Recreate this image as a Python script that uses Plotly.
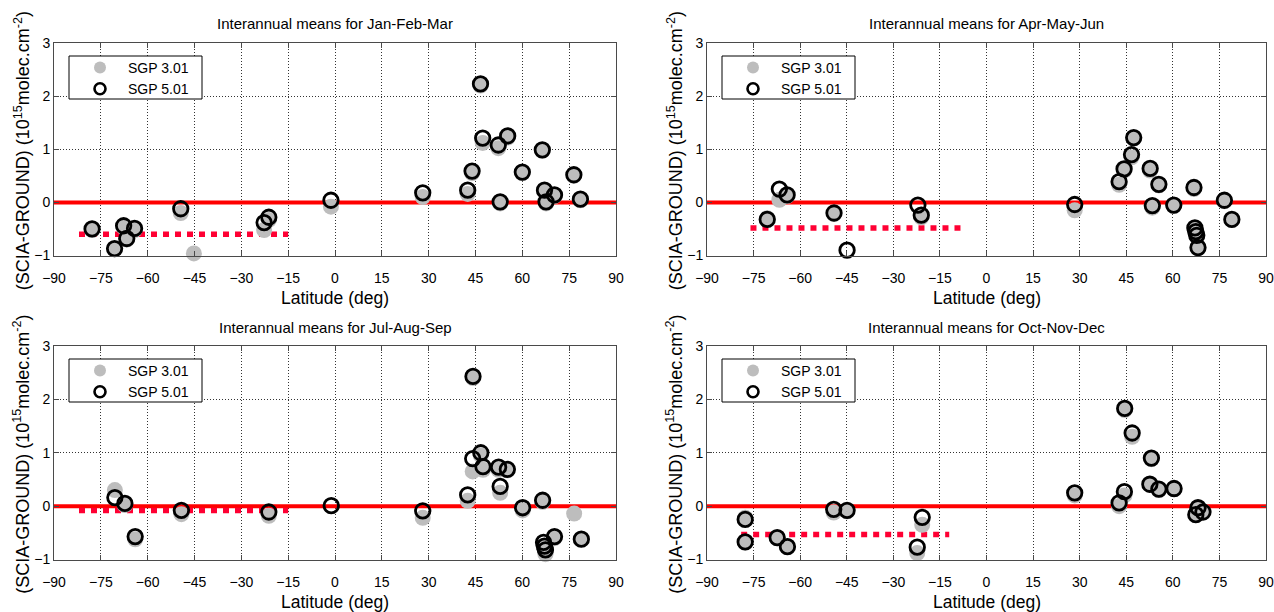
import plotly.graph_objects as go

# Seasonal panels
seasons = ["Jan-Feb-Mar", "Apr-May-Jun", "Jul-Aug-Sep", "Oct-Nov-Dec"]

# Station latitudes (deg) and SCIA-GROUND differences (1e15 molec/cm2)
jfm_lat = [-77.8, -70.6, -67.7, -66.7, -64.2, -49.4, -45.2, -22.7, -21.2, -1.3, 28.1, 42.5, 43.9,
           46.6, 47.3, 52.3, 52.9, 55.3, 60.0, 66.4, 67.1, 67.6, 70.3, 76.5, 78.6]
jfm_sgp501 = [-0.50, -0.87, -0.44, -0.68, -0.49, -0.12, None, -0.38, -0.28, 0.04, 0.18, 0.23, 0.59,
              2.23, 1.21, 1.08, 0.01, 1.25, 0.57, 0.99, 0.23, 0.01, 0.14, 0.52, 0.06]
jfm_sgp301 = [-0.52, -0.88, -0.47, -0.70, -0.52, -0.20, -0.96, -0.52, -0.33, -0.08, 0.10, 0.16, 0.55,
              2.20, 1.12, 1.02, -0.02, 1.22, 0.55, 0.97, 0.20, -0.02, 0.12, 0.50, 0.04]

amj_lat = [-70.6, -66.7, -64.2, -49.1, -44.9, -22.1, -21.0, 28.4, 42.7, 44.3, 46.7, 47.4,
           52.7, 53.4, 55.5, 60.3, 66.8, 67.1, 67.4, 67.7, 68.1, 76.6, 79.0]
amj_sgp501 = [-0.32, 0.25, 0.14, -0.20, -0.90, -0.05, -0.24, -0.04, 0.39, 0.63, 0.90, 1.22,
              0.64, -0.06, 0.34, -0.05, 0.28, -0.48, -0.55, -0.62, -0.85, 0.04, -0.32]
amj_sgp301 = [-0.30, 0.05, 0.12, -0.22, None, None, -0.28, -0.15, 0.33, 0.60, 0.85, 1.20,
              0.60, -0.10, 0.32, -0.07, 0.25, -0.52, -0.58, -0.64, -0.83, 0.02, -0.33]

jas_lat = [-70.5, -67.3, -64.0, -49.2, -21.2, -1.2, 28.1, 42.5, 44.1, 44.2, 46.7, 47.4,
           52.4, 52.9, 55.2, 60.1, 66.5, 66.8, 67.1, 67.4, 70.3, 76.6, 78.9]
jas_sgp501 = [0.16, 0.05, -0.57, -0.08, -0.11, 0.01, -0.09, 0.21, 0.89, 2.43, 1.00, 0.74,
              0.73, 0.37, 0.69, -0.03, 0.11, -0.68, -0.75, -0.82, -0.57, None, -0.62]
jas_sgp301 = [0.30, 0.02, -0.62, -0.15, -0.18, None, -0.22, 0.10, 0.65, 2.40, 0.95, 0.68,
              0.68, 0.25, 0.67, -0.08, 0.08, -0.75, -0.80, -0.90, -0.60, -0.14, -0.62]

ond_lat = [-77.7, -77.7, -67.4, -64.1, -49.2, -44.9, -22.3, -20.7, 28.4, 42.7, 44.4, 44.5,
           46.9, 52.6, 53.1, 55.5, 60.4, 67.4, 68.1, 69.7]
ond_sgp501 = [-0.25, -0.67, -0.59, -0.76, -0.06, -0.08, -0.77, -0.21, 0.25, 0.06, 0.27, 1.83,
              1.37, 0.41, 0.90, 0.32, 0.33, -0.16, -0.03, -0.11]
ond_sgp301 = [-0.22, -0.68, -0.60, -0.75, -0.12, -0.10, -0.88, -0.35, 0.20, 0.00, 0.20, 1.80,
              1.30, 0.40, 0.88, 0.30, 0.32, -0.15, -0.05, -0.10]

# Southern-hemisphere mean bias: latitude extent and level
bias_start = [-82, -76, -82, -79]
bias_end = [-15, -8, -15, -12]
bias_value = [-0.60, -0.48, -0.08, -0.53]

lat_ticks = list(range(-90, 91, 15))
val_ticks = [-1, 0, 1, 2, 3]
lat_range = [-90, 90]
val_range = [-1, 3]

panels = [
    (jfm_lat, jfm_sgp301, jfm_sgp501),
    (amj_lat, amj_sgp301, amj_sgp501),
    (jas_lat, jas_sgp301, jas_sgp501),
    (ond_lat, ond_sgp301, ond_sgp501),
]

W, H = 1274, 612
SANS = "Liberation Sans, Arial, Helvetica, sans-serif"
GRAY = "#bdbdbd"

# axes boxes in pixels: (left, right, top, bottom)
boxes = [(54, 616, 43, 255.5), (707, 1266, 43, 255.5),
         (54, 616, 346, 559.5), (707, 1266, 346, 559.5)]

fig = go.Figure()
layout = dict(width=W, height=H, margin=dict(l=0, r=0, t=0, b=0, autoexpand=False),
              autosize=False, paper_bgcolor="white", plot_bgcolor="white",
              annotations=[], shapes=[])

for i, (lat, v301, v501) in enumerate(panels):
    n = "" if i == 0 else str(i + 1)
    xa, ya = "x" + n, "y" + n
    leg = "legend" + n
    l, r, t, b = boxes[i]

    axis_common = dict(showline=True, linecolor="#4a4a4a", linewidth=1, mirror="ticks",
                       ticks="inside", ticklen=5, tickcolor="#4a4a4a", automargin=False,
                       showgrid=True, gridcolor="#333333", gridwidth=1, griddash="1px,2px",
                       zeroline=False, tickfont=dict(family=SANS, size=14, color="black"))
    layout["xaxis" + n] = dict(axis_common, domain=[l / W, r / W], range=lat_range,
                               tickvals=lat_ticks, anchor=ya, ticklabelstandoff=10)
    layout["yaxis" + n] = dict(axis_common, domain=[1 - b / H, 1 - t / H], range=val_range,
                               tickvals=val_ticks, anchor=xa)

    # zero reference and hemispheric bias
    fig.add_trace(go.Scatter(x=lat_range, y=[0, 0], mode="lines", xaxis=xa, yaxis=ya,
                             line=dict(color="#ff0000", width=4), showlegend=False,
                             hoverinfo="skip"))
    fig.add_trace(go.Scatter(x=[bias_start[i], bias_end[i]], y=[bias_value[i]] * 2,
                             mode="lines", xaxis=xa, yaxis=ya,
                             line=dict(color="#ff0033", width=5.5, dash="6px,6px"),
                             showlegend=False, hoverinfo="skip"))
    # station differences
    fig.add_trace(go.Scatter(x=lat, y=v301, mode="markers", xaxis=xa, yaxis=ya,
                             marker=dict(color=GRAY, size=16, line=dict(width=0)),
                             cliponaxis=False, showlegend=False, name="SGP 3.01"))
    fig.add_trace(go.Scatter(x=lat, y=v501, mode="markers", xaxis=xa, yaxis=ya,
                             marker=dict(color="rgba(0,0,0,0)", size=14.5,
                                         line=dict(color="black", width=2.8)),
                             cliponaxis=False, showlegend=False, name="SGP 5.01"))
    # legend entries
    fig.add_trace(go.Scatter(x=[None], y=[None], mode="markers", xaxis=xa, yaxis=ya,
                             marker=dict(color=GRAY, size=12), name="SGP 3.01", legend=leg))
    fig.add_trace(go.Scatter(x=[None], y=[None], mode="markers", xaxis=xa, yaxis=ya,
                             marker=dict(color="white", size=11, line=dict(color="black", width=2.6)),
                             name="SGP 5.01", legend=leg))
    # legend frame
    layout["shapes"].append(dict(type="rect", xref="paper", yref="paper", layer="above",
                                 x0=(l + 15) / W, x1=(l + 148) / W,
                                 y0=1 - (t + 56) / H, y1=1 - (t + 13) / H,
                                 fillcolor="white", line=dict(color="black", width=1)))
    layout[leg] = dict(x=(l + 18) / W, y=1 - (t + 9) / H, xanchor="left", yanchor="top",
                       bgcolor="rgba(0,0,0,0)", borderwidth=0,
                       font=dict(family=SANS, size=14, color="black"),
                       itemwidth=46, tracegroupgap=0)

    cx = (l + r) / 2
    layout["annotations"] += [
        dict(text="Interannual means for " + seasons[i], x=cx / W, y=1 - (t - 19) / H,
             xref="paper", yref="paper", xanchor="center", yanchor="middle", showarrow=False,
             font=dict(family=SANS, size=15, color="black")),
        dict(text="Latitude (deg)", x=cx / W, y=1 - (b + 42.5) / H,
             xref="paper", yref="paper", xanchor="center", yanchor="middle", showarrow=False,
             font=dict(family=SANS, size=17.5, color="black")),
        dict(text="(SCIA-GROUND) (10<sup>15</sup>molec.cm<sup>-2</sup>)",
             x=(l - 32) / W, y=1 - ((t + b) / 2 + 2) / H, textangle=-90,
             xref="paper", yref="paper", xanchor="center", yanchor="middle", showarrow=False,
             font=dict(family=SANS, size=18, color="black")),
    ]

fig.update_layout(**layout)
fig.write_html("out.html")
